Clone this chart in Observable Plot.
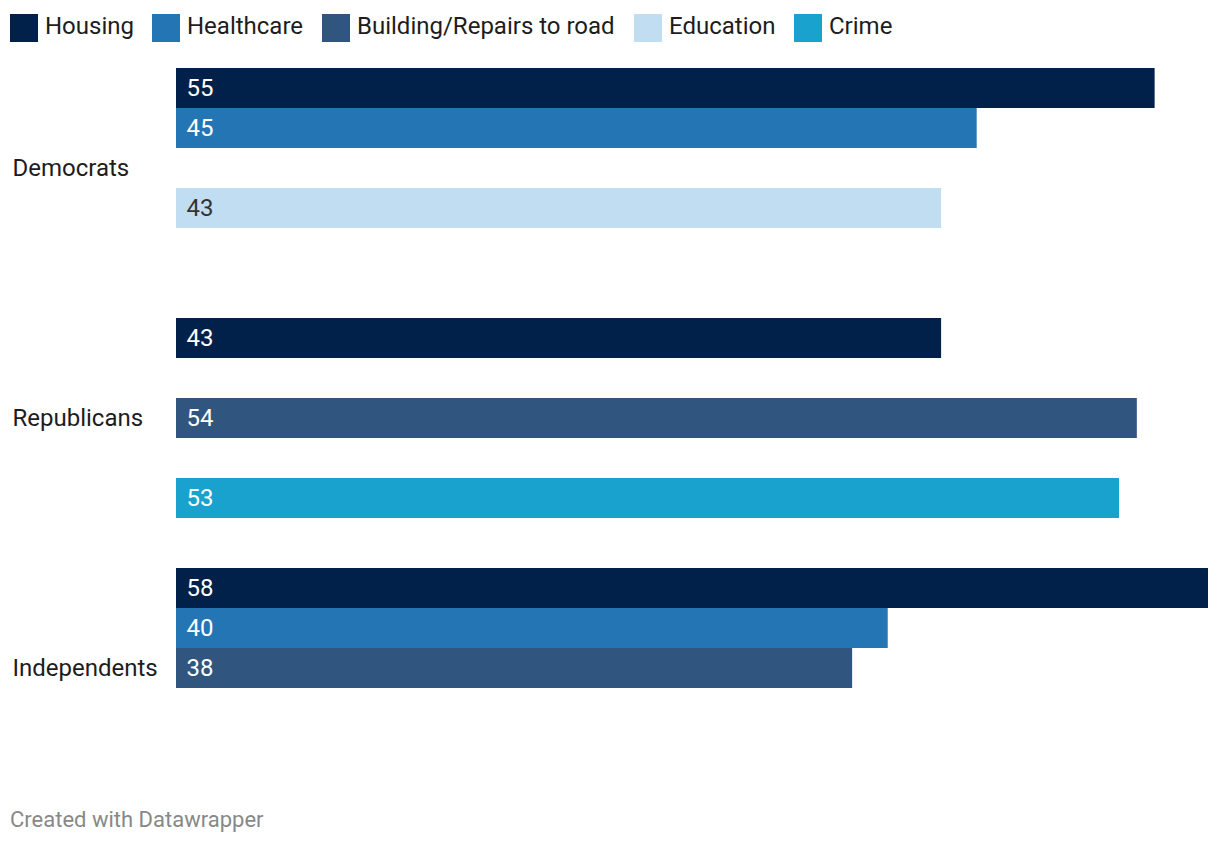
<!DOCTYPE html>
<html>
<head>
<meta charset="utf-8">
<script src="https://cdn.jsdelivr.net/npm/d3@7"></script>
<script src="https://cdn.jsdelivr.net/npm/@observablehq/plot@0.6"></script>
<style>
  html, body { margin: 0; padding: 0; background: #fff; }
  body { width: 1220px; height: 846px; font-family: Roboto, sans-serif; color: #1d1d1d; position: relative; overflow: hidden; }
  #legend { height: 56px; position: relative; }
  .item { position: absolute; top: 14px; height: 28px; display: flex; align-items: center; font-size: 24px; line-height: 28px; white-space: nowrap; }
  .item .lab { position: relative; top: -2px; }
  .sw { width: 28px; height: 28px; margin-right: 7px; flex: none; }
  #caption { position: absolute; left: 10px; top: 806px; font-size: 22px; line-height: 28px; color: #888; }
  svg { display: block; }
</style>
</head>
<body>
<div id="legend"></div>
<div id="chart"></div>
<div id="caption">Created with Datawrapper</div>
<script>
const groups = ["Democrats", "Republicans", "Independents"];
const categories = ["Housing", "Healthcare", "Building/Repairs to road", "Education", "Crime"];
const colors = ["#01214a", "#2475b3", "#30557f", "#c1ddf1", "#19a2ce"];
const housing   = [55, 43, 58];
const healthcare = [45, null, 40];
const building  = [null, 54, 38];
const education = [43, null, null];
const crime     = [null, 53, null];
const legendX = [10, 152, 322, 634, 794];

const series = [housing, healthcare, building, education, crime];
const data = [];
groups.forEach((g, gi) => {
  categories.forEach((c, ci) => {
    const v = series[ci][gi];
    if (v != null) data.push({group: g, category: c, value: v});
  });
});

// legend
const leg = document.getElementById("legend");
categories.forEach((c, i) => {
  const d = document.createElement("div");
  d.className = "item";
  d.style.left = legendX[i] + "px";
  d.innerHTML = `<span class="sw" style="background:${colors[i]}"></span><span class="lab">${c}</span>`;
  leg.appendChild(d);
});

const chart = Plot.plot({
  width: 1220,
  height: 740,
  marginTop: 12,
  marginBottom: 28,
  marginLeft: 176,
  marginRight: 12,
  style: {fontFamily: "Roboto, sans-serif", fontSize: "24px", color: "#1d1d1d", background: "#fff"},
  x: {domain: [0, 58], axis: null},
  y: {domain: categories, padding: 0, axis: null},
  fy: {domain: groups, paddingInner: 0.2, paddingOuter: 0, axis: null},
  color: {domain: categories, range: colors},
  marks: [
    Plot.barX(data, {x: "value", y: "category", fy: "group", fill: "category"}),
    Plot.text(data, {
      x: 0, y: "category", fy: "group", text: d => String(d.value),
      textAnchor: "start", dx: 10, fontSize: 24,
      fill: d => d.category === "Education" ? "#333333" : "#ffffff"
    }),
    Plot.text(groups, {
      fy: d => d, text: d => d, frameAnchor: "left", textAnchor: "start",
      dx: -164, fontSize: 24, fill: "#1d1d1d"
    })
  ]
});
document.getElementById("chart").appendChild(chart);
</script>
</body>
</html>
